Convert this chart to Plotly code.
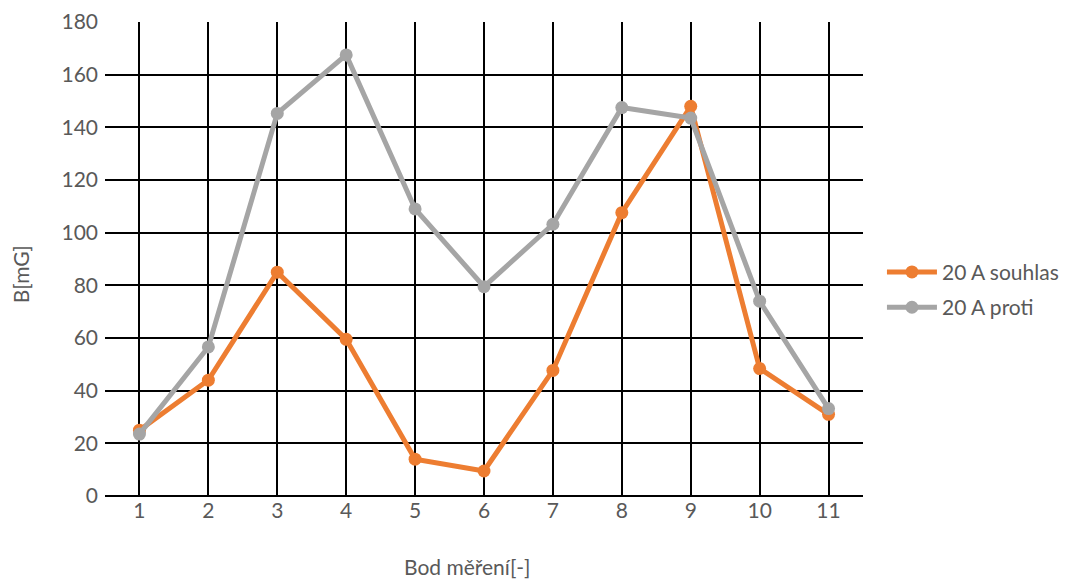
import plotly.graph_objects as go

points = [1, 2, 3, 4, 5, 6, 7, 8, 9, 10, 11]
souhlas = [25, 44, 85, 59.5, 14, 9.5, 47.7, 107.6, 148, 48.4, 31]
proti = [23.5, 56.6, 145.3, 167.5, 109, 79.5, 103.2, 147.5, 143.5, 74, 33.2]
y_ticks = [0, 20, 40, 60, 80, 100, 120, 140, 160, 180]

FONT = "Lato, Open Sans, sans-serif"
TXT = "#595959"

fig = go.Figure()
fig.add_trace(go.Scatter(
    x=points, y=souhlas, name="20 A souhlas", mode="lines+markers",
    legendgroup="a",
    line=dict(color="#ED7D31", width=5), marker=dict(size=13, color="#ED7D31"),
))
fig.add_trace(go.Scatter(
    x=points, y=proti, name="20 A proti", mode="lines+markers",
    legendgroup="b",
    line=dict(color="#A5A5A5", width=5), marker=dict(size=13, color="#A5A5A5"),
))

# page body adds an 8px offset, so the figure is sized/margined to compensate
fig.update_layout(
    width=1069, height=571,
    margin=dict(l=97, r=214, t=14, b=83),
    paper_bgcolor="white", plot_bgcolor="white",
    font=dict(family=FONT, size=21, color=TXT),
    legend=dict(x=1.025, y=0.435, xanchor="left", yanchor="middle",
                font=dict(family=FONT, size=21, color=TXT),
                tracegroupgap=5, itemwidth=50),
    xaxis=dict(
        range=[0.5, 11.5], tickmode="array", tickvals=points,
        ticktext=[str(p) for p in points],
        showgrid=True, gridcolor="black", gridwidth=2,
        zeroline=False, showline=False, ticks="", automargin=False,
    ),
    yaxis=dict(
        range=[0, 180], tickmode="array", tickvals=y_ticks,
        showgrid=True, gridcolor="black", gridwidth=2,
        zeroline=True, zerolinecolor="black", zerolinewidth=2,
        showline=False, ticks="", ticklabelstandoff=6, automargin=False,
    ),
    annotations=[
        dict(text="Bod měření[-]", xref="paper", yref="paper",
             x=0.4776, y=-0.1477, xanchor="center", yanchor="middle",
             showarrow=False, font=dict(family=FONT, size=21, color=TXT)),
        dict(text="B[mG]", xref="paper", yref="paper", textangle=-90,
             x=-0.112, y=0.468, xanchor="center", yanchor="middle",
             showarrow=False, font=dict(family=FONT, size=21, color=TXT)),
    ],
)

fig.write_html("out.html")
